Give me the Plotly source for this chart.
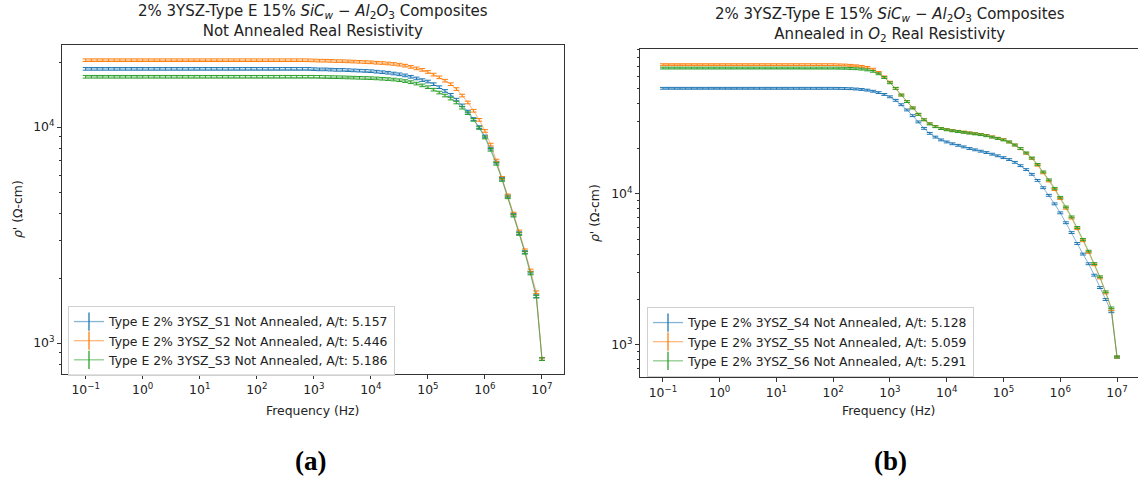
import plotly.graph_objects as go

W, H = 1138, 479

# Measurement sweep: 10 points per decade, 0.1 Hz .. 10 MHz
freq_hz = [round(10 ** (k / 10), 6) for k in range(-10, 71)]

# ---- Panel (a): not annealed, real resistivity (ohm-cm) ----
s1_not_annealed = [
    18600, 18600, 18600, 18600, 18600, 18600, 18600, 18600, 18600, 18600,
    18600, 18600, 18600, 18600, 18600, 18600, 18600, 18600, 18600, 18600,
    18600, 18600, 18600, 18600, 18600, 18600, 18600, 18600, 18600, 18600,
    18600, 18600, 18600, 18600, 18600, 18600, 18600, 18600, 18600, 18600,
    18550,
    18500, 18500, 18450, 18400, 18400, 18350, 18300, 18250, 18200, 18150,
    18050, 17950, 17850, 17700, 17550, 17350, 17100, 16800, 16500, 16250,
    15800, 15300, 14700, 14100, 13400, 12600, 11800, 10900, 10000, 9050,
    7950, 6850, 5760, 4780, 3930, 3230, 2640, 2120, 1650, 843,
]
s2_not_annealed = [
    20400, 20400, 20400, 20400, 20400, 20400, 20400, 20400, 20400, 20400,
    20400, 20400, 20400, 20400, 20400, 20400, 20400, 20400, 20400, 20400,
    20400, 20400, 20400, 20400, 20400, 20400, 20400, 20400, 20400, 20400,
    20400, 20400, 20400, 20400, 20400, 20400, 20400, 20400, 20400, 20380,
    20350,
    20300, 20300, 20250, 20200, 20200, 20150, 20100, 20050, 20000, 19950,
    19850, 19800, 19700, 19600, 19450, 19250, 19000, 18700, 18400, 18000,
    17500, 17000, 16400, 15800, 15000, 14000, 13000, 11900, 10800, 9600,
    8300, 7000, 5820, 4830, 3980, 3290, 2690, 2170, 1720, 845,
]
s3_not_annealed = [
    17100, 17100, 17100, 17100, 17100, 17100, 17100, 17100, 17100, 17100,
    17100, 17100, 17100, 17100, 17100, 17100, 17100, 17100, 17100, 17100,
    17100, 17100, 17100, 17100, 17100, 17100, 17100, 17100, 17100, 17100,
    17100, 17100, 17100, 17100, 17100, 17100, 17100, 17100, 17100, 17100,
    17100,
    17080, 17060, 17040, 17020, 17000, 16970, 16940, 16910, 16880, 16850,
    16800, 16740, 16680, 16600, 16480, 16330, 16150, 15900, 15600, 15300,
    14900, 14450, 14000, 13550, 13000, 12300, 11600, 10800, 9900, 8950,
    7850, 6760, 5690, 4730, 3890, 3200, 2620, 2100, 1640, 843,
]

# ---- Panel (b): annealed in O2, real resistivity (ohm-cm) ----
s4_annealed = [
    50100, 50100, 50100, 50100, 50100, 50100, 50100, 50100, 50100, 50100,
    50100, 50100, 50100, 50100, 50100, 50100, 50100, 50100, 50100, 50100,
    50100, 50100, 50100, 50100, 50100, 50100, 50100, 50100, 50100, 50100,
    50100,
    50050, 49950, 49800, 49550, 49200, 48700, 47900, 46900, 45600, 44000,
    41700, 39000, 36000, 33000, 30000, 27200, 25200, 23800, 22800, 22100,
    21500, 21000, 20500, 20000, 19600, 19200, 18800, 18350, 17900, 17400,
    16900, 16200, 15400, 14500, 13500, 12300, 11000, 9800, 8600, 7500,
    6450, 5550, 4700, 4000, 3450, 2900, 2400, 2000, 1660, 832,
]
s5_annealed = [
    71800, 71800, 71800, 71800, 71800, 71800, 71800, 71800, 71800, 71800,
    71800, 71800, 71800, 71800, 71800, 71800, 71800, 71800, 71800, 71800,
    71800, 71800, 71800, 71800, 71800, 71800, 71800, 71800, 71800, 71800,
    71800,
    71600, 71450, 71100, 70600, 70000, 68900, 67000, 63800, 59600, 55000,
    50100, 45200, 40900, 37200, 33700, 31000, 29200, 28000, 27200, 26700,
    26300, 26000, 25700, 25400, 25100, 24800, 24400, 23900, 23400, 22900,
    22100, 21100, 19950, 18600, 17200, 15500, 13800, 12200, 10700, 9330,
    8040, 6920, 5890, 4900, 4100, 3400, 2780, 2210, 1720, 832,
]
s6_annealed = [
    68200, 68200, 68200, 68200, 68200, 68200, 68200, 68200, 68200, 68200,
    68200, 68200, 68200, 68200, 68200, 68200, 68200, 68200, 68200, 68200,
    68200, 68200, 68200, 68200, 68200, 68200, 68200, 68200, 68200, 68200,
    68200,
    68100, 68000, 67800, 67500, 67100, 66300, 64900, 62500, 59000, 54500,
    50000, 45200, 40900, 37100, 33700, 31000, 29100, 27900, 27100, 26600,
    26200, 25900, 25600, 25300, 25000, 24700, 24300, 23800, 23300, 22800,
    22100, 21100, 20000, 18700, 17300, 15700, 14000, 12400, 10900, 9500,
    8200, 7050, 6000, 5000, 4180, 3460, 2830, 2250, 1760, 832,
]

labels_a = [
    "Type E 2% 3YSZ_S1 Not Annealed, A/t: 5.157",
    "Type E 2% 3YSZ_S2 Not Annealed, A/t: 5.446",
    "Type E 2% 3YSZ_S3 Not Annealed, A/t: 5.186",
]
labels_b = [
    "Type E 2% 3YSZ_S4 Not Annealed, A/t: 5.128",
    "Type E 2% 3YSZ_S5 Not Annealed, A/t: 5.059",
    "Type E 2% 3YSZ_S6 Not Annealed, A/t: 5.291",
]
x_tick_vals = [1e-1, 1e0, 1e1, 1e2, 1e3, 1e4, 1e5, 1e6, 1e7]
x_tick_text = ["10<sup>−1</sup>", "10<sup>0</sup>", "10<sup>1</sup>", "10<sup>2</sup>",
               "10<sup>3</sup>", "10<sup>4</sup>", "10<sup>5</sup>", "10<sup>6</sup>",
               "10<sup>7</sup>"]
y_tick_vals = [1e3, 1e4]
y_tick_text = ["10<sup>3</sup>", "10<sup>4</sup>"]
y_minor_vals = [600, 700, 800, 900, 2000, 3000, 4000, 5000, 6000, 7000, 8000, 9000,
                20000, 30000, 40000, 50000, 60000, 70000, 80000, 90000]

COLORS = ["#1f77b4", "#ff7f0e", "#2ca02c"]
FADED = ["rgba(31,119,180,0.55)", "rgba(255,127,14,0.55)", "rgba(44,160,44,0.55)"]
FONT = "DejaVu Sans, Verdana, sans-serif"
FS = 12.4

fig = go.Figure()


def add_panel(series, labels, xa, ya, legend_name):
    for ys, lab, c, fc in zip(series, labels, COLORS, FADED):
        fig.add_trace(go.Scatter(
            x=freq_hz, y=ys, mode="lines", xaxis=xa, yaxis=ya,
            line=dict(color=fc, width=1),
            error_y=dict(type="percent", value=1.4, color=c, thickness=1, width=3),
            showlegend=False, hoverinfo="skip",
        ))
    for lab, c, fc in zip(labels, COLORS, FADED):
        fig.add_trace(go.Scatter(
            x=[None], y=[None], mode="lines+markers", xaxis=xa, yaxis=ya,
            name=lab, legend=legend_name,
            line=dict(color=fc, width=1.3),
            marker=dict(symbol="line-ns-open", size=13, color=c,
                        line=dict(color=c, width=1.3)),
        ))


add_panel([s1_not_annealed, s2_not_annealed, s3_not_annealed], labels_a, "x", "y", "legend")
add_panel([s4_annealed, s5_annealed, s6_annealed], labels_b, "x2", "y2", "legend2")


def px(x):
    return x / W


def py(y):
    return 1 - y / H


axis_common = dict(
    type="log", showgrid=False, zeroline=False, showline=True,
    linecolor="#333333", linewidth=1, ticks="outside", ticklen=4,
    tickcolor="#333333", tickfont=dict(family=FONT, size=FS, color="#222222"),
)
minor_common = dict(tickvals=y_minor_vals, ticks="outside", ticklen=2,
                    tickcolor="#333333", showgrid=False)

# Panel (a) geometry
A_L, A_R, A_T, A_B = 62, 564, 45, 374
# Panel (b) geometry
B_L, B_R, B_T, B_B = 640, 1138, 49, 377

legend_common = dict(xanchor="left", yanchor="top",
                     bgcolor="rgba(255,255,255,0.85)", bordercolor="#d0d0d0", borderwidth=1,
                     font=dict(family=FONT, size=FS, color="#222222"),
                     itemwidth=30, tracegroupgap=0)

fig.update_layout(
    width=W, height=H, autosize=False,
    margin=dict(l=0, r=0, t=0, b=0),
    paper_bgcolor="white", plot_bgcolor="white",
    font=dict(family=FONT, size=FS, color="#222222"),
    hovermode=False,
    xaxis=dict(axis_common, domain=[px(A_L), px(A_R)], anchor="y",
               range=[-1.415, 7.386], tickvals=x_tick_vals, ticktext=x_tick_text,
               mirror=True),
    yaxis=dict(axis_common, domain=[py(A_B), py(A_T)], anchor="x",
               range=[2.857, 4.38], tickvals=y_tick_vals, ticktext=y_tick_text,
               minor=minor_common, mirror=True),
    xaxis2=dict(axis_common, domain=[px(B_L), px(B_R)], anchor="y2",
                range=[-1.405, 7.37], tickvals=x_tick_vals, ticktext=x_tick_text,
                mirror=True),
    yaxis2=dict(axis_common, domain=[py(B_B), py(B_T)], anchor="x2",
                range=[2.788, 4.96], tickvals=y_tick_vals, ticktext=y_tick_text,
                minor=minor_common, mirror=False),
    legend=dict(legend_common, x=px(68), y=py(306)),
    legend2=dict(legend_common, x=px(647), y=py(307)),
)

title_font = dict(family=FONT, size=15, color="#222222")
label_font = dict(family=FONT, size=FS, color="#222222")
formula = "<i>SiC</i><sub><i>w</i></sub> − <i>Al</i><sub>2</sub><i>O</i><sub>3</sub>"

ann = [
    dict(x=px((A_L + A_R) / 2), y=py(A_T - 3), xanchor="center", yanchor="bottom",
         text=f"2% 3YSZ-Type E 15% {formula} Composites<br>Not Annealed Real Resistivity",
         font=title_font),
    dict(x=px(890), y=py(B_T - 3), xanchor="center", yanchor="bottom",
         text=f"2% 3YSZ-Type E 15% {formula} Composites<br>Annealed in <i>O</i><sub>2</sub> Real Resistivity",
         font=title_font),
    dict(x=px(312), y=py(410), xanchor="center", yanchor="middle",
         text="Frequency (Hz)", font=label_font),
    dict(x=px(888), y=py(410), xanchor="center", yanchor="middle",
         text="Frequency (Hz)", font=label_font),
    dict(x=px(17), y=py(209), xanchor="center", yanchor="middle", textangle=-90,
         text="<i>ρ</i>' (Ω-cm)", font=label_font),
    dict(x=px(594), y=py(213), xanchor="center", yanchor="middle", textangle=-90,
         text="<i>ρ</i>' (Ω-cm)", font=label_font),
    dict(x=px(310), y=py(461), xanchor="center", yanchor="middle", text="<b>(a)</b>",
         font=dict(family="Liberation Serif, Times New Roman, serif", size=27, color="black")),
    dict(x=px(890), y=py(461), xanchor="center", yanchor="middle", text="<b>(b)</b>",
         font=dict(family="Liberation Serif, Times New Roman, serif", size=27, color="black")),
]
for a in ann:
    a.update(xref="paper", yref="paper", showarrow=False)
fig.update_layout(annotations=ann)

fig.write_html("out.html")
